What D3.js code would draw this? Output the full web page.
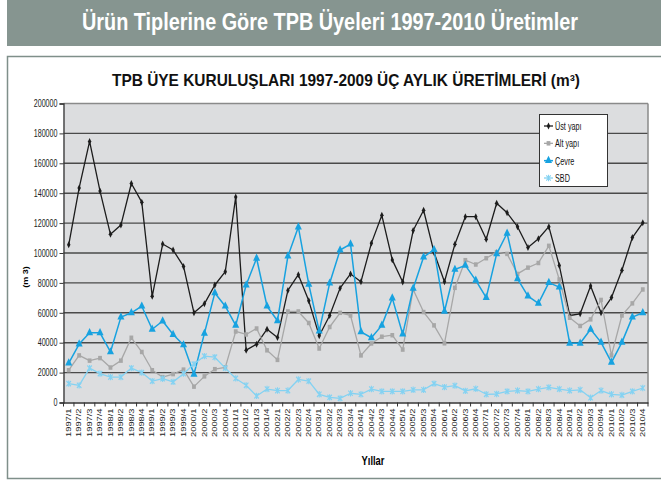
<!DOCTYPE html>
<html><head><meta charset="utf-8">
<script src="https://cdn.jsdelivr.net/npm/d3@7"></script>
<style>
html,body{margin:0;padding:0;background:#fff;}
svg{display:block;}
text{font-family:"Liberation Sans",Arial,sans-serif;}
</style></head>
<body>
<svg id="c" width="661" height="485"></svg>
<script>
// ---- data ----
const years = [1997,1998,1999,2000,2001,2002,2003,2004,2005,2006,2007,2008,2009,2010];
const quarters = [1,2,3,4];
const categories = years.flatMap(yr => quarters.map(q => yr + "/" + q));
const yTicks = [0,20000,40000,60000,80000,100000,120000,140000,160000,180000,200000];
const seriesNames = ["Üst yapı","Alt yapı","Çevre","SBD"];

const ustYapi = [105500,143500,174600,141400,112500,118700,146500,134000,71000,106000,102000,91000,
  60000,66000,78600,87500,137500,35000,39000,49000,43500,75000,85500,
  68000,44600,58200,76500,86000,80800,106600,125200,95400,80600,115000,
  128600,100400,80800,105900,124300,124300,109200,133300,126900,117600,103700,
  109500,117600,91700,58200,59300,77900,60000,70200,88500,110300,120200];
const altYapi = [21600,31500,28000,29700,23400,28000,43300,33800,21600,17000,19000,22000,
  10600,17500,22300,23500,47500,45500,49500,34900,28500,60900,60900,
  53200,36100,50500,60000,58200,31500,39500,44000,45000,35400,75600,
  60500,51600,39600,76700,95200,92300,96500,100600,99400,86000,90200,
  93300,104800,82300,56700,51200,55600,68600,31500,58200,66300,75600];
const cevre = [26400,39100,46600,46600,33800,57100,60000,64400,49000,54500,45500,38500,
  18900,46200,73300,64400,51600,78600,96500,64400,54700,97900,117400,
  79000,47700,79800,102000,106000,47300,43300,51600,69800,45700,76300,
  97300,102200,61000,89000,91700,81700,70200,99400,113200,82700,71200,
  66300,80200,77200,39600,39600,49000,40200,26900,40200,57100,60000];
const sbd = [12600,11500,23000,19300,17000,17000,23000,20000,14300,15900,13800,19300,
  25700,31000,30300,23000,16100,11500,4400,9000,8000,8000,15400,
  14300,5500,3400,2800,6200,5500,9000,7400,7400,7400,8500,
  8500,12600,10300,11300,7800,9200,5500,5700,7400,8000,7400,
  9000,10100,9000,8000,8500,3200,8000,5500,5000,7400,9700];

// ---- chart ----
const svg = d3.select("#c");
const SQ = 0.7; // horizontal squeeze of the original rendering

// header banner
svg.append("rect").attr("x",7).attr("y",0).attr("width",654).attr("height",46).attr("fill","#869590");
svg.append("text").attr("x",330).attr("y",30).attr("text-anchor","middle")
  .attr("font-size",23).attr("font-weight","bold").attr("fill","#fff")
  .attr("textLength",496).attr("lengthAdjust","spacingAndGlyphs")
  .text("Ürün Tiplerine Göre TPB Üyeleri 1997-2010 Üretimler");

// chart box
svg.append("rect").attr("x",7.5).attr("y",56.5).attr("width",660).attr("height",422)
  .attr("fill","#fff").attr("stroke","#7f8f8a").attr("stroke-width",1.5);
svg.append("text").attr("x",346).attr("y",86).attr("text-anchor","middle")
  .attr("font-size",16.5).attr("font-weight","bold").attr("fill","#111")
  .attr("textLength",468).attr("lengthAdjust","spacingAndGlyphs")
  .text("TPB ÜYE KURULUŞLARI 1997-2009 ÜÇ AYLIK ÜRETİMLERİ (m³)");

const x = d3.scaleBand().domain(categories).range([63.5,648]).padding(0);
const y = d3.scaleLinear().domain([0,200000]).range([402.5,103.5]);
const cx = d => x(d) + x.bandwidth()/2;

// plot area
svg.append("rect").attr("x",x.range()[0]).attr("y",y(200000))
  .attr("width",x.range()[1]-x.range()[0]).attr("height",y(0)-y(200000)).attr("fill","#dcdddf");

// gridlines
svg.append("g").selectAll("line").data(yTicks.filter(v => v>0)).join("line")
  .attr("x1",x.range()[0]).attr("x2",x.range()[1])
  .attr("y1",d=>y(d)).attr("y2",d=>y(d))
  .attr("stroke",d => d===200000 ? "#8a8a8a" : "#4a4a4a").attr("stroke-width",1.4);
// right border
svg.append("line").attr("x1",x.range()[1]).attr("x2",x.range()[1]).attr("y1",y(200000)).attr("y2",y(0))
  .attr("stroke","#8a8a8a").attr("stroke-width",1.5);

// y axis
const yAxis = svg.append("g").attr("transform",`translate(${x.range()[0]},0)`)
  .call(d3.axisLeft(y).tickValues(yTicks).tickSize(4).tickFormat(d3.format("d")));
yAxis.select(".domain").attr("stroke","#333").attr("stroke-width",1.3);
yAxis.selectAll(".tick line").attr("stroke","#333");
yAxis.selectAll(".tick text").attr("x",-6/SQ).attr("transform",`scale(${SQ},1)`)
  .attr("font-size",10.2).attr("fill","#222").attr("font-family","Liberation Sans, Arial, sans-serif");

// x axis
const xAxis = svg.append("g").attr("transform",`translate(0,${y(0)})`)
  .call(d3.axisBottom(x).tickSize(0).tickSizeOuter(0));
xAxis.select(".domain").attr("stroke","#333").attr("stroke-width",1.3);
xAxis.selectAll(".tick text").attr("x",0).attr("y",0).attr("dy","0.35em")
  .attr("text-anchor","end").attr("transform",`translate(0,6) scale(${SQ},1) rotate(-90)`)
  .attr("font-size",9.3).attr("fill","#222").attr("font-family","Liberation Sans, Arial, sans-serif");
// boundary ticks
const bounds = categories.map(d => x(d)).concat([x.range()[1]]);
svg.append("g").selectAll("line").data(bounds).join("line")
  .attr("x1",d=>d).attr("x2",d=>d).attr("y1",y(0)).attr("y2",y(0)+4)
  .attr("stroke","#333").attr("stroke-width",1);

// axis titles
svg.append("text").attr("transform",`translate(28,277) scale(0.78,1) rotate(-90)`)
  .attr("text-anchor","middle").attr("font-size",9).attr("font-weight","bold").text("(m 3)");
svg.append("text").attr("transform",`translate(373,465) scale(0.72,1)`)
  .attr("text-anchor","middle").attr("font-size",13).attr("font-weight","bold").text("Yıllar");

// marker types
const starType = {draw(ctx, size){ const r = Math.sqrt(size)/2;
  ctx.moveTo(-r,-r); ctx.lineTo(r,r); ctx.moveTo(-r,r); ctx.lineTo(r,-r);
  ctx.moveTo(0,-r*1.2); ctx.lineTo(0,r*1.2); }};
const series = [
  {name:seriesNames[0], values:ustYapi, color:"#1c1c1c", width:1.3, sym:d3.symbolDiamond, size:14, stroke:false},
  {name:seriesNames[1], values:altYapi, color:"#a7a7a7", width:1.3, sym:d3.symbolSquare, size:20, stroke:false},
  {name:seriesNames[2], values:cevre, color:"#17a2e0", width:1.5, sym:d3.symbolTriangle, size:30, stroke:false},
  {name:seriesNames[3], values:sbd, color:"#84d2f2", width:1.3, sym:starType, size:28, stroke:true}
];

const line = d3.line().x((v,i)=>cx(categories[i])).y(v=>y(v));
series.forEach(s => {
  const g = svg.append("g");
  g.append("path").datum(s.values).attr("d",line).attr("fill","none")
    .attr("stroke",s.color).attr("stroke-width",s.width).attr("stroke-linejoin","round");
  g.selectAll("path.m").data(s.values).join("path").attr("class","m")
    .attr("transform",(v,i)=>`translate(${cx(categories[i])},${y(v)}) scale(0.85,1)`)
    .attr("d",d3.symbol().type(s.sym).size(s.size))
    .attr("fill",s.stroke ? "none" : s.color)
    .attr("stroke",s.stroke ? s.color : "none").attr("stroke-width",1.3);
});

// legend
const lg = svg.append("g");
lg.append("rect").attr("x",539.5).attr("y",114.5).attr("width",68).attr("height",72)
  .attr("fill","#fff").attr("stroke","#333").attr("stroke-width",1);
const legY = d3.scalePoint().domain(seriesNames).range([126,178]);
series.forEach(s => {
  const yy = legY(s.name);
  lg.append("line").attr("x1",544).attr("x2",553).attr("y1",yy).attr("y2",yy)
    .attr("stroke",s.color).attr("stroke-width",s.width);
  lg.append("path").attr("transform",`translate(548.5,${yy}) scale(0.85,1)`)
    .attr("d",d3.symbol().type(s.sym).size(s.size))
    .attr("fill",s.stroke ? "none" : s.color)
    .attr("stroke",s.stroke ? s.color : "none").attr("stroke-width",1.3);
  lg.append("text").attr("transform",`translate(555,${yy}) scale(0.66,1)`)
    .attr("dy","0.35em").attr("font-size",11).attr("fill","#111").text(s.name);
});
</script>
</body></html>
